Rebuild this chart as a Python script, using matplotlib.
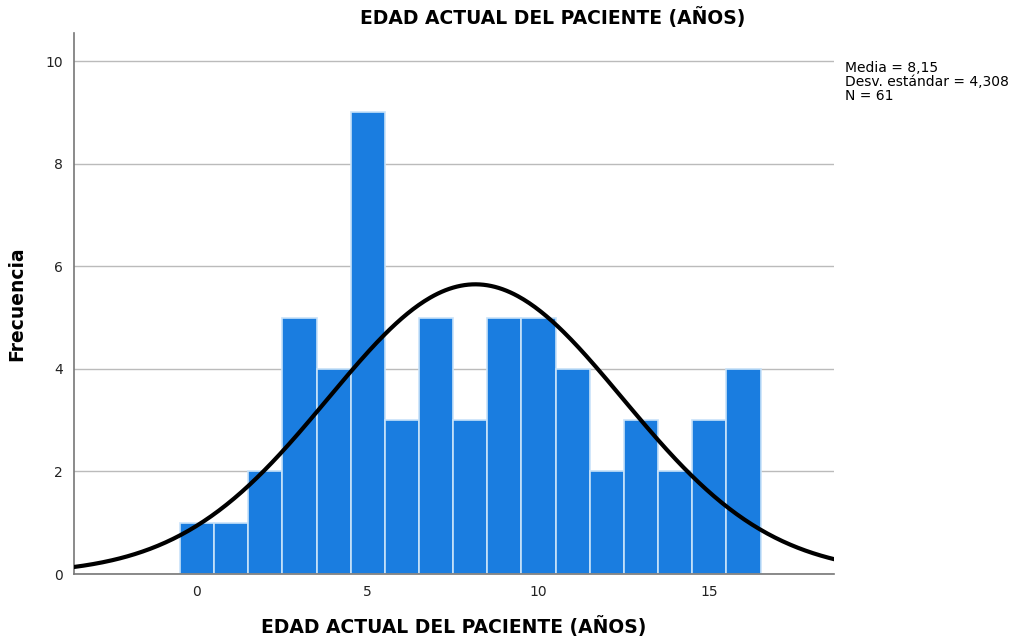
import numpy as np
import matplotlib.pyplot as plt

# edad (años) y frecuencia de cada barra
edades = [0, 1, 2, 3, 4, 5, 6, 7, 8, 9, 10, 11, 12, 13, 14, 15, 16]
frecuencias = [1, 1, 2, 5, 4, 9, 3, 5, 3, 5, 5, 4, 2, 3, 2, 3, 4]
media = 8.15
desv = 4.308
n = 61

fig = plt.figure(figsize=(10.15, 6.43), dpi=100)
ax = fig.add_axes([0.0729, 0.1073, 0.7488, 0.8414])

ax.bar(edades, frecuencias, width=1.0, color="#1a7de0",
       edgecolor="#c8e2f9", linewidth=1.2, zorder=2)

# curva normal escalada a la frecuencia
xs = np.linspace(-3.6, 18.65, 400)
ys = n * 1.0 / (desv * np.sqrt(2 * np.pi)) * np.exp(-0.5 * ((xs - media) / desv) ** 2)
ax.plot(xs, ys, color="black", linewidth=3, zorder=3)

ax.set_xlim(-3.6, 18.65)
ax.set_ylim(0, 10.55)
ax.set_xticks([0, 5, 10, 15])
ax.set_yticks([0, 2, 4, 6, 8, 10])
ax.tick_params(length=0, labelsize=10, colors="#222222", pad=8)
ax.yaxis.grid(True, color="#bbbbbb", linewidth=1, zorder=0)
ax.set_axisbelow(True)
for s in ["top", "right"]:
    ax.spines[s].set_visible(False)
for s in ["left", "bottom"]:
    ax.spines[s].set_color("#777777")
    ax.spines[s].set_linewidth(1.2)

fig.text(0.545, 0.972, "EDAD ACTUAL DEL PACIENTE (AÑOS)", fontsize=13.5,
         fontweight="bold", ha="center", va="center")
ax.set_xlabel("EDAD ACTUAL DEL PACIENTE (AÑOS)", fontsize=13.5, fontweight="bold", labelpad=12)
ax.set_ylabel("Frecuencia", fontsize=13.5, fontweight="bold", labelpad=14)

fig.text(0.8325, 0.905, "Media = 8,15\nDesv. estándar = 4,308\nN = 61",
         fontsize=10, va="top", ha="left", linespacing=1.0)

fig.savefig("out.png")
